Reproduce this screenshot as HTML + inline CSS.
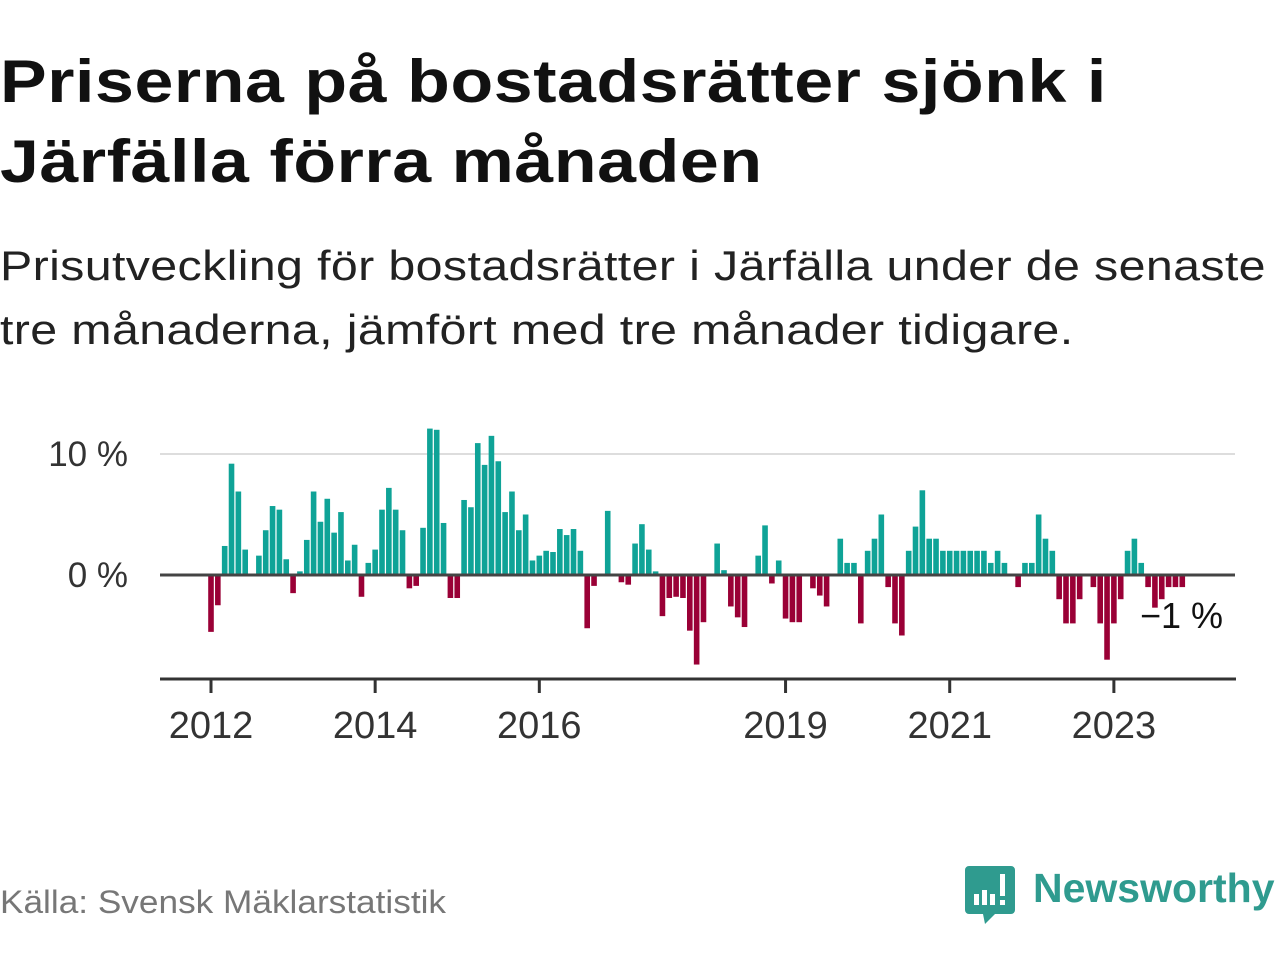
<!DOCTYPE html>
<html><head><meta charset="utf-8"><style>
body{margin:0;background:#fff;width:1280px;height:960px;overflow:hidden;font-family:"Liberation Sans",sans-serif;position:relative}
.t{position:absolute;left:0;white-space:nowrap;transform-origin:0 0}
</style></head><body>
<div class="t" style="top:42px;font-size:60px;font-weight:bold;line-height:80px;color:#111;letter-spacing:0.5px;transform:scaleX(1.165)">Priserna på bostadsrätter sjönk i<br>Järfälla förra månaden</div>
<div class="t" style="top:234px;font-size:42px;line-height:64px;color:#222;letter-spacing:0.3px;transform:scaleX(1.152)">Prisutveckling för bostadsrätter i Järfälla under de senaste<br>tre månaderna, jämfört med tre månader tidigare.</div>
<svg id="chart" width="1280" height="960" style="position:absolute;left:0;top:0" xmlns="http://www.w3.org/2000/svg"></svg>
<div class="t" style="top:884px;font-size:32px;color:#777;transform:scaleX(1.1)">Källa: Svensk Mäklarstatistik</div>
<div style="position:absolute;left:965px;top:864px;width:315px;height:64px">
<svg width="52" height="62" style="position:absolute;left:0;top:0"><path d="M4 2h42a4 4 0 0 1 4 4v40a4 4 0 0 1-4 4H30l-10 10l-2-10H4a4 4 0 0 1-4-4V6a4 4 0 0 1 4-4z" fill="#2f9b8f"/><rect x="9" y="30" width="5" height="11" fill="#fff"/><rect x="17" y="26" width="5" height="15" fill="#fff"/><rect x="25" y="30" width="5" height="11" fill="#fff"/><rect x="35" y="10" width="5" height="22" fill="#fff"/><rect x="35" y="36" width="5" height="5" fill="#fff"/></svg>
<div style="position:absolute;left:68px;top:1px;font-size:41px;font-weight:bold;color:#2f9b8f">Newsworthy</div>
</div>
<script>
const values=[-4.7,-2.5,2.4,9.2,6.9,2.1,0,1.6,3.7,5.7,5.4,1.3,-1.5,0.3,2.9,6.9,4.4,6.3,3.5,5.2,1.2,2.5,-1.8,1.0,
2.1,5.4,7.2,5.4,3.7,-1.1,-0.9,3.9,12.1,12.0,4.3,-1.9,-1.9,6.2,5.6,10.9,9.1,11.5,9.4,5.2,6.9,3.7,5.0,1.2,
1.6,2.0,1.9,3.8,3.3,3.8,2.0,-4.4,-0.9,0,5.3,0,-0.6,-0.8,2.6,4.2,2.1,0.3,-3.4,-1.9,-1.8,-1.9,-4.6,-7.4,
-3.9,0,2.6,0.4,-2.6,-3.5,-4.3,0,1.6,4.1,-0.7,1.2,-3.6,-3.9,-3.9,0,-1.1,-1.7,-2.6,0,3.0,1.0,1.0,-4.0,
2.0,3.0,5.0,-1.0,-4.0,-5.0,2.0,4.0,7.0,3.0,3.0,2.0,2.0,2.0,2.0,2.0,2.0,2.0,1.0,2.0,1.0,0,-1.0,1.0,
1.0,5.0,3.0,2.0,-2.0,-4.0,-4.0,-2.0,0,-1.0,-4.0,-7.0,-4.0,-2.0,2.0,3.0,1.0,-1.0,-2.7,-2.0,-1.0,-1.0,-1.0];
const yTicks=[0,10];
const yTickLabels=["0 %","10 %"];
const xTickYears=[2012,2014,2016,2019,2021,2023];
const startYear=2012;
const NS="http://www.w3.org/2000/svg";
const svg=document.getElementById('chart');
const x=i=>211+i*6.84;
const y=v=>575-v*12.1;
function mk(tag,a){const e=document.createElementNS(NS,tag);for(const k in a)e.setAttribute(k,a[k]);svg.appendChild(e);return e;}
yTicks.forEach((t,k)=>{
  if(t!==0){const g=mk('line',{x1:160,x2:1235,y1:y(t),y2:y(t),stroke:'#ddd','stroke-width':2});
  
  }
  const l=mk('text',{x:128,y:y(t)+12,'text-anchor':'end','font-size':35,fill:'#333','font-family':'Liberation Sans, sans-serif'});
  l.textContent=yTickLabels[k];
  
  
});
values.forEach((v,i)=>{
  if(v===0)return;
  const r=mk('rect',{x:x(i)-2.8,width:5.6,y:v>0?y(v):y(0),height:Math.abs(y(v)-y(0)),fill:v>0?'#0fa397':'#9a0036'});
  
  
});
const z=mk('line',{x1:160,x2:1235,y1:y(0),y2:y(0),stroke:'#444','stroke-width':3});


const ax=mk('line',{x1:160,x2:1236,y1:679,y2:679,stroke:'#333','stroke-width':3});


xTickYears.forEach(yr=>{
  const i=(yr-startYear)*12;
  const t=mk('line',{x1:x(i),x2:x(i),y1:679,y2:693,stroke:'#333','stroke-width':3});
  
  
  const l=mk('text',{x:x(i),y:738,'text-anchor':'middle','font-size':38,fill:'#333','font-family':'Liberation Sans, sans-serif'});
  l.textContent=yr;
  
  
});
const ll=mk('text',{x:1223,y:628,'text-anchor':'end','font-size':36,fill:'#111','font-family':'Liberation Sans, sans-serif'});
ll.textContent='\u22121 %';


</script>
</body></html>
